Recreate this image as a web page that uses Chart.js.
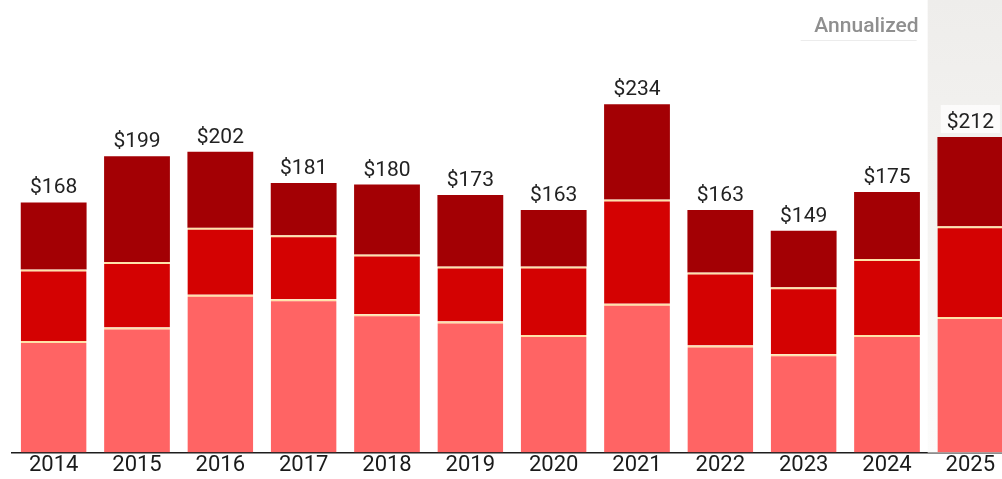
<!DOCTYPE html>
<html>
<head>
<meta charset="utf-8">
<script src="https://cdn.jsdelivr.net/npm/chart.js@4.4.1/dist/chart.umd.min.js"></script>
<style>
  html, body { margin: 0; padding: 0; background: #fff; overflow: hidden; }
  #wrap { position: relative; width: 1012px; height: 479px; }
</style>
</head>
<body>
<div id="wrap"><canvas id="chart"></canvas></div>
<script>
// annual totals, split in three stacked parts (bottom -> top)
const years = ['2014', '2015', '2016', '2017', '2018', '2019', '2020', '2021', '2022', '2023', '2024', '2025'];
const partLow  = [75, 84, 106, 103, 93, 88, 79, 100, 72, 66, 79, 91];
const partMid  = [48, 44, 45, 43, 40, 37, 46, 70, 49, 45, 51, 61];
const partHigh = [45, 71, 51, 35, 47, 48, 38, 64, 42, 38, 45, 60];
const annualizedIndex = 11;
const annualizedLabel = 'Annualized';

const COLORS = { low: '#ff6464', mid: '#d40202', high: '#a30004', sep: '#ffe2a8', text: '#222', axis: '#1d1d1d' };
const FONT = 'Roboto, "Liberation Sans", sans-serif';

// light band behind the partial (annualized) year + its caption
const bandPlugin = {
  id: 'annualBand',
  beforeDatasetsDraw(chart) {
    const { ctx, chartArea, scales: { x } } = chart;
    const half = (x.getPixelForValue(1) - x.getPixelForValue(0)) / 2;
    const cx = x.getPixelForValue(annualizedIndex);
    const g = ctx.createLinearGradient(0, 0, 0, chartArea.bottom);
    g.addColorStop(0, '#eeedeb');
    g.addColorStop(0.45, '#f4f3f1');
    g.addColorStop(1, '#fcfcfb');
    ctx.save();
    ctx.fillStyle = g;
    ctx.fillRect(cx - half - 1, 0, half * 2 + 2, chartArea.bottom);
    ctx.fillStyle = '#8f8f8f';
    ctx.font = '500 21px ' + FONT;
    ctx.textAlign = 'right';
    ctx.textBaseline = 'alphabetic';
    ctx.fillText(annualizedLabel, cx - half - 10, 32);
    ctx.strokeStyle = 'rgba(160,160,160,0.2)';
    ctx.lineWidth = 1;
    ctx.beginPath();
    ctx.moveTo(cx - half - 128, 40.5);
    ctx.lineTo(cx - half - 12, 40.5);
    ctx.stroke();
    ctx.restore();
  }
};

// "$total" above each stack
const totalsPlugin = {
  id: 'totals',
  afterDatasetsDraw(chart) {
    const { ctx } = chart;
    const top = chart.getDatasetMeta(chart.data.datasets.length - 1);
    ctx.save();
    ctx.font = '21px ' + FONT;
    ctx.textAlign = 'center';
    ctx.textBaseline = 'alphabetic';
    years.forEach((y, i) => {
      const total = partLow[i] + partMid[i] + partHigh[i];
      const bar = top.data[i];
      const txt = '$' + total;
      if (i === annualizedIndex) {
        const w = ctx.measureText(txt).width;
        ctx.fillStyle = 'rgba(255,255,255,0.75)';
        ctx.fillRect(bar.x - w / 2 - 6, bar.y - 32, w + 12, 28);
      }
      ctx.fillStyle = COLORS.text;
      ctx.fillText(txt, bar.x, bar.y - 9);
    });
    ctx.restore();
  }
};

// thin pale line where one part meets the next
const sepBorder = { top: 2, left: 0, right: 0, bottom: 0 };

new Chart(document.getElementById('chart'), {
  type: 'bar',
  data: {
    labels: years,
    datasets: [
      { data: partLow, backgroundColor: COLORS.low, borderColor: COLORS.sep, borderWidth: sepBorder, borderSkipped: false },
      { data: partMid, backgroundColor: COLORS.mid, borderColor: COLORS.sep, borderWidth: sepBorder, borderSkipped: false },
      { data: partHigh, backgroundColor: COLORS.high, borderWidth: 0 }
    ]
  },
  options: {
    responsive: true, maintainAspectRatio: false, animation: false,
    layout: { padding: { left: 12, right: 0, top: 0, bottom: 0 } },
    datasets: { bar: { barPercentage: 0.79, categoryPercentage: 1 } },
    plugins: { legend: { display: false }, tooltip: { enabled: false } },
    scales: {
      x: {
        stacked: true,
        grid: { display: false, drawTicks: false },
        border: { display: true, color: COLORS.axis, width: 1.5 },
        ticks: { color: '#1a1a1a', padding: 0, font: { family: FONT, size: 22 } }
      },
      y: { stacked: true, display: false, min: 0, max: 304 }
    }
  },
  plugins: [bandPlugin, totalsPlugin]
});
</script>
</body>
</html>
